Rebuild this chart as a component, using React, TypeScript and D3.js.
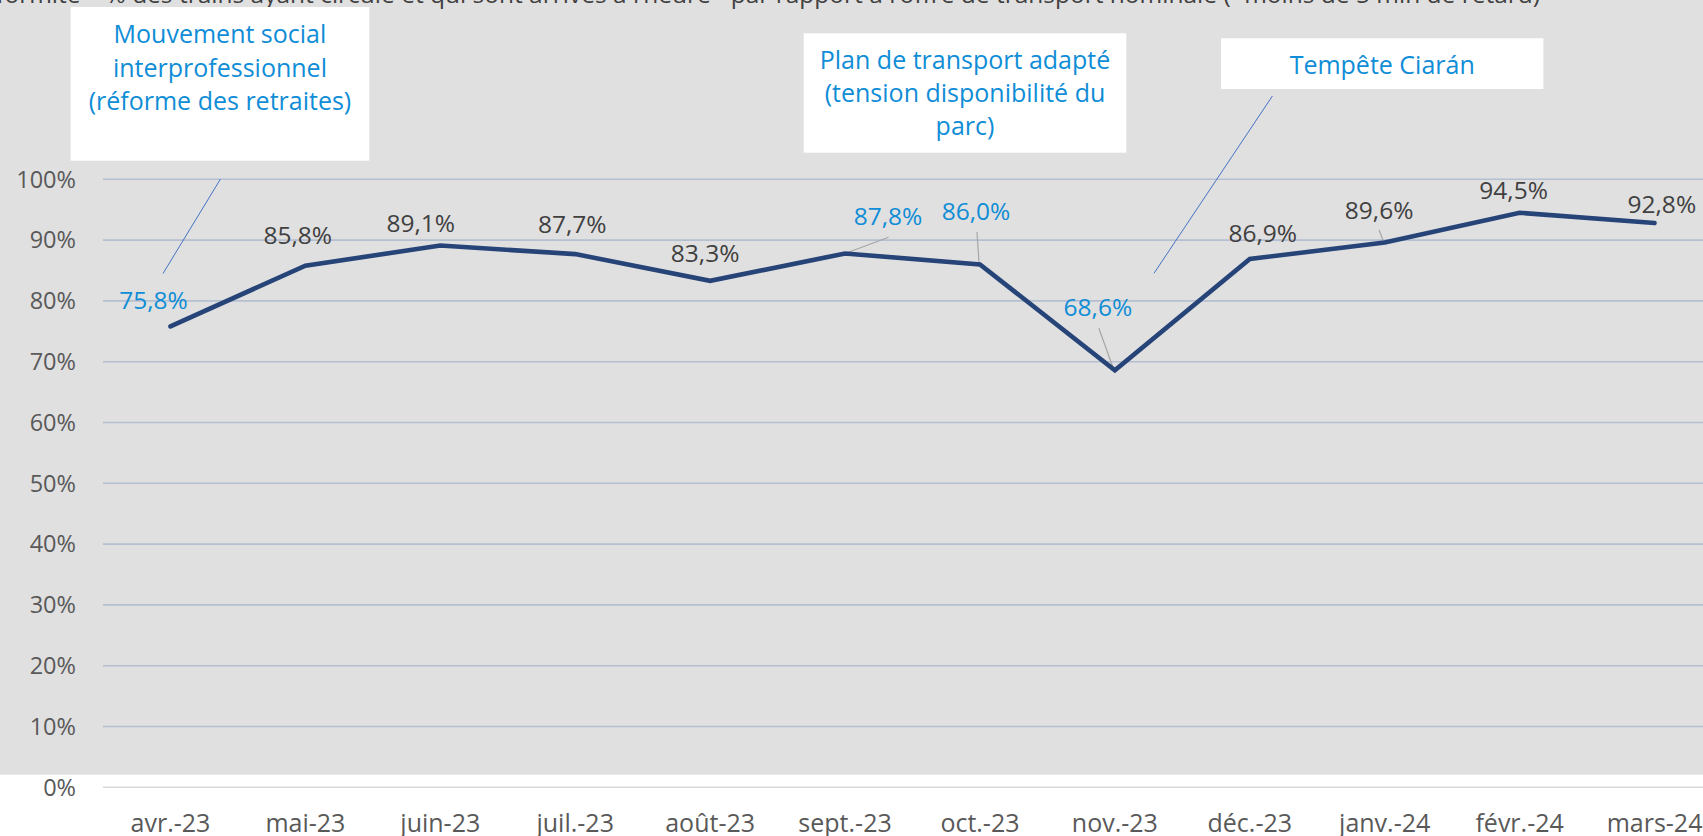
import React from "react";
import * as d3 from "d3";

const categories = ["avr.-23", "mai-23", "juin-23", "juil.-23", "août-23", "sept.-23", "oct.-23", "nov.-23", "déc.-23", "janv.-24", "févr.-24", "mars-24"];
const values = [75.8, 85.8, 89.1, 87.7, 83.3, 87.8, 86.0, 68.6, 86.9, 89.6, 94.5, 92.8];
const highlighted = [true, false, false, false, false, true, true, true, false, false, false, false];
const yTicks = [0, 10, 20, 30, 40, 50, 60, 70, 80, 90, 100];
const titleText = "Conformité – % des trains ayant circulé et qui sont arrivés à l’heure* par rapport à l’offre de transport nominale (*moins de 5 min de retard)";
const annotations = [
  ["Mouvement social", "interprofessionnel", "(réforme des retraites)"],
  ["Plan de transport adapté", "(tension disponibilité du", "parc)"],
  ["Tempête Ciarán"],
];

// layout (label offsets relative to the point, leaders)
const labelOffsets = [
  [-17, -17.5], [-7.6, -21.3], [-19.5, -13.3], [-3, -21.4], [-5, -18.5], [43, -28.5],
  [-4, -44.4], [-17, -54], [13, -17], [-5.6, -24], [-6, -13.7], [7.3, -10],
];
const pointLeaders: Record<number, [number, number, number, number]> = {
  5: [43.5, -16.2, 0, 0],
  6: [-3, -32.4, -0.9, -1.4],
  7: [-16, -41.9, -2.2, -3.5],
  9: [-5.6, -12.5, -1.1, -0.8],
};
const boxes = [
  { x0: 70.6, x1: 369.3, y0: 7, y1: 160.7, lines: [34, 68, 101.7] },
  { x0: 803.7, x1: 1126.3, y0: 33.3, y1: 152.7, lines: [60, 93.3, 126.7] },
  { x0: 1221, x1: 1543.4, y0: 38.3, y1: 89, lines: [65] },
];
const boxLeaders = [
  [220.5, 179, 163, 273.5],
  [1272.4, 96, 1154, 273.3],
];

const W = 1703, H = 836;
const FONT = "'Open Sans', 'Noto Sans', sans-serif";
const BLUE_TXT = "#0F8DD6";

export default function App() {
  const x = d3.scaleBand<string>().domain(categories).range([103, 1722]);
  const cx = (c: string) => (x(c) as number) + x.bandwidth() / 2;
  const y = d3.scaleLinear().domain([0, 100]).range([787.3, 179.3]);
  const line = d3.line<number>().x((_, i) => cx(categories[i])).y((v) => y(v));

  return (
    <svg width={W} height={H} style={{ position: "absolute", left: 0, top: 0, background: "#fff" }} fontFamily={FONT}>
      <rect x={0} y={0} width={W} height={774.7} fill="#E0E0E0" />
      <text x={1540} y={3} textAnchor="end" fontSize={24.5} fill="#404040">{titleText}</text>
      {yTicks.map((t) => (
        <g key={t}>
          <line x1={103} x2={W} y1={y(t)} y2={y(t)} stroke={t === 0 ? "#D9D9D9" : "#B4BFD1"} strokeWidth={1.6} />
          <text x={76} y={y(t)} dy="0.35em" textAnchor="end" fontSize={23.5} fill="#595959">{t}%</text>
        </g>
      ))}
      {categories.map((c) => (
        <text key={c} x={cx(c)} y={832} textAnchor="middle" fontSize={25} fill="#595959">{c}</text>
      ))}
      {boxLeaders.map((l, i) => (
        <line key={i} x1={l[0]} y1={l[1]} x2={l[2]} y2={l[3]} stroke="#4472C4" strokeWidth={1} />
      ))}
      {boxes.map((b, i) => (
        <g key={i}>
          <rect x={b.x0} y={b.y0} width={b.x1 - b.x0} height={b.y1 - b.y0} fill="#FFFFFF" />
          {annotations[i].map((t, j) => (
            <text key={j} x={(b.x0 + b.x1) / 2} y={b.lines[j]} dy="0.35em" textAnchor="middle" fontSize={25} fill={BLUE_TXT}>{t}</text>
          ))}
        </g>
      ))}
      {Object.entries(pointLeaders).map(([k, l]) => {
        const i = +k;
        const px = cx(categories[i]), py = y(values[i]);
        return <line key={k} x1={px + l[0]} y1={py + l[1]} x2={px + l[2]} y2={py + l[3]} stroke="#A6A6A6" strokeWidth={1.2} />;
      })}
      <path d={line(values) as string} fill="none" stroke="#264478" strokeWidth={4.6} strokeLinecap="round" strokeLinejoin="miter" />
      {values.map((v, i) => (
        <text key={i} x={cx(categories[i]) + labelOffsets[i][0]} y={y(v) + labelOffsets[i][1]} textAnchor="middle" fontSize={24.5} fill={highlighted[i] ? BLUE_TXT : "#404040"}>
          {v.toFixed(1).replace(".", ",")}%
        </text>
      ))}
    </svg>
  );
}
